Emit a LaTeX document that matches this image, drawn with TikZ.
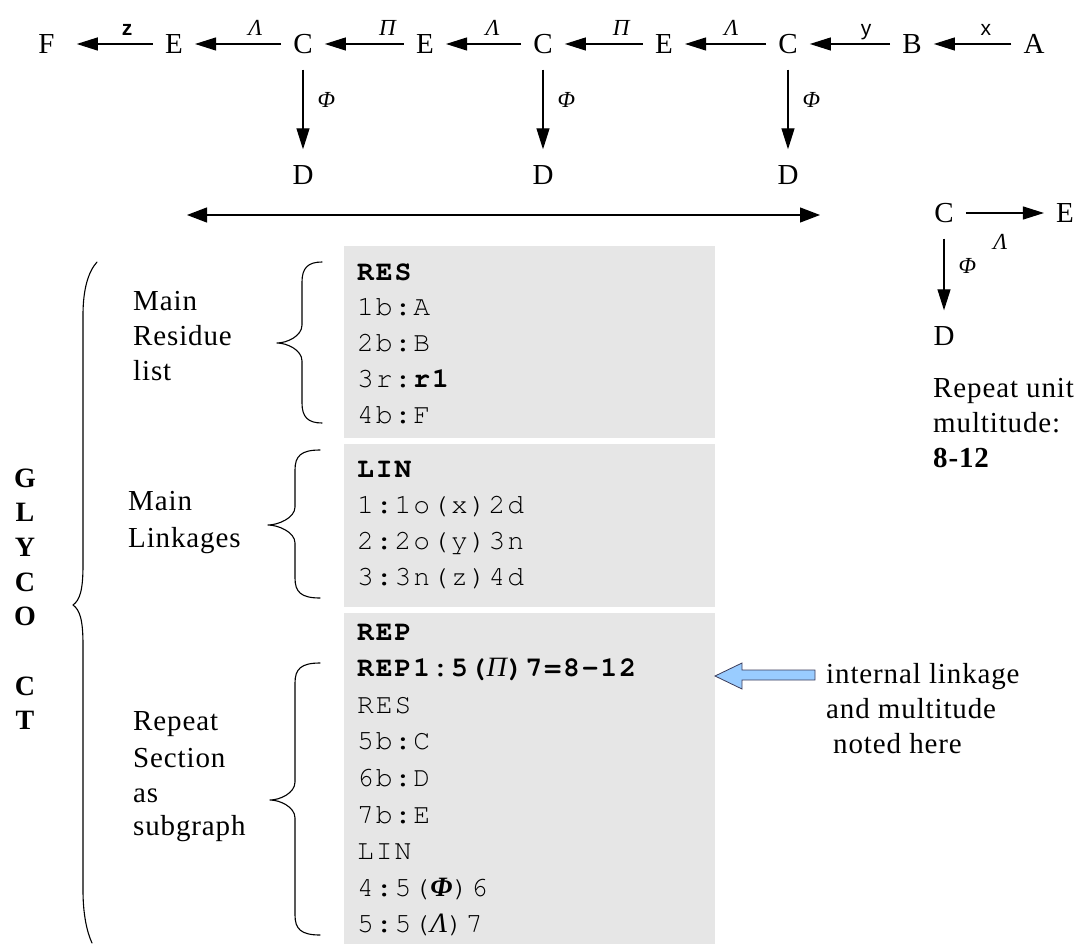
\documentclass[tikz,border=0pt]{standalone}
\usepackage{fontspec}
\setmainfont{Liberation Serif}[LetterSpace=3]
\newfontfamily\grk{Liberation Serif}
\newfontfamily\lblsans{Liberation Sans}
\newfontfamily\codefont{texgyrecursor-regular.otf}[BoldFont=texgyrecursor-bold.otf, LetterSpace=7]
\usetikzlibrary{arrows.meta}

\definecolor{boxgray}{RGB}{230,230,230}
\definecolor{noteblue}{RGB}{153,204,255}
\definecolor{noteedge}{RGB}{60,60,90}

% curly brace opening to the right: end x, stem x, tip x, top y, tip y, bottom y
\newcommand{\curlybrace}[6]{%
  \draw[bracepath] (#1,#4) .. controls ({#2+6},#4) and (#2,{#4+6}) .. (#2,{#4+20})
    -- (#2,{#5-18}) .. controls (#2,{#5-7}) and ({#3+10},#5) .. (#3,#5)
    .. controls ({#3+10},#5) and (#2,{#5+7}) .. (#2,{#5+18})
    -- (#2,{#6-20}) .. controls (#2,{#6-6}) and ({#2+6},#6) .. (#1,#6);}

\begin{document}
\begin{tikzpicture}[x=1pt,y=-1pt,
  res/.style={font=\fontsize{29}{34}\selectfont, text height=19pt, text depth=0pt,
              inner xsep=12pt, inner ysep=16pt},
  link/.style={line width=1.2pt, -{Triangle[length=21pt,width=13pt]}},
  glbl/.style={font=\grk\itshape\fontsize{23}{26}\selectfont, inner sep=0pt},
  slbl/.style={font=\lblsans\fontsize{21}{24}\selectfont, inner sep=0pt},
  txt/.style={font=\fontsize{29}{35}\selectfont, anchor=base west, inner sep=0pt},
  code/.style={font=\codefont\fontsize{28}{32}\selectfont, anchor=base west, inner sep=0pt},
  glyco/.style={font=\bfseries\fontsize{28}{34}\selectfont, anchor=base, inner sep=0pt},
  panel/.style={fill=boxgray, draw=none, inner sep=0pt, anchor=north west, minimum width=371pt},
  bracepath/.style={line width=1.1pt, line join=round, line cap=round},
]
\useasboundingbox (0,0) rectangle (1081,944);

% ---- main chain -------------------------------------------------------
\node[res, inner xsep=22pt] (F) at (46.5,44) {F};
\node[res] (E1) at (174,44) {E};
\node[res] (C1) at (303,44) {C};
\node[res] (E2) at (425,44) {E};
\node[res] (C2) at (543,44) {C};
\node[res] (E3) at (664,44) {E};
\node[res] (C3) at (788,44) {C};
\node[res] (B)  at (912,44) {B};
\node[res] (A)  at (1034,44) {A};
\node[res] (D1) at (303,175) {D};
\node[res] (D2) at (543,175) {D};
\node[res] (D3) at (788,175) {D};

\draw[link] (A)  -- (B)  node[slbl, pos=.33, anchor=base, yshift=8pt] {x};
\draw[link] (B)  -- (C3) node[slbl, pos=.30, anchor=base, yshift=8pt] {y};
\draw[link] (C3) -- (E3) node[glbl, pos=.43, anchor=base, yshift=8pt] {Λ};
\draw[link] (E3) -- (C2) node[glbl, pos=.28, anchor=base, yshift=8pt] {Π};
\draw[link] (C2) -- (E2) node[glbl, pos=.38, anchor=base, yshift=8pt] {Λ};
\draw[link] (E2) -- (C1) node[glbl, pos=.21, anchor=base, yshift=8pt] {Π};
\draw[link] (C1) -- (E1) node[glbl, pos=.30, anchor=base, yshift=8pt] {Λ};
\draw[link] (E1) -- (F)  node[slbl, font=\lblsans\bfseries\fontsize{21}{24}\selectfont, pos=.34, anchor=base, yshift=8pt] {z};

\draw[link] (C1) -- (D1) node[glbl, pos=.38, right=14pt] {Φ};
\draw[link] (C2) -- (D2) node[glbl, pos=.38, right=14pt] {Φ};
\draw[link] (C3) -- (D3) node[glbl, pos=.38, right=14pt] {Φ};

% span of the repeating unit
\coordinate (spanL) at (187,215);
\coordinate (spanR) at (820,215);
\draw[line width=1.2pt, {Triangle[length=20pt,width=15pt]}-{Triangle[length=20pt,width=15pt]}] (spanL) -- (spanR);

% ---- repeat unit --------------------------------------------------------
\node[res] (Cr) at (944,213) {C};
\node[res] (Er) at (1065,213) {E};
\node[res] (Dr) at (944,336) {D};
\draw[link] (Cr) -- (Er) node[glbl, pos=.44, below=21pt] {Λ};
\draw[link] (Cr) -- (Dr) node[glbl, pos=.375, right=14pt] {Φ};

\node[txt] (ru1) at (933,397) {Repeat unit};
\node[txt] (ru2) at (933,432) {multitude:};
\node[txt] (ru3) at (933,467) {\bfseries 8-12};

% ---- GlycoCT panels -----------------------------------------------------
\node[panel, minimum height=192pt] (resbox) at (344,246) {};
\node[panel, minimum height=163pt] (linbox) at (344,444) {};
\node[panel, minimum height=331pt] (repbox) at (344,613) {};

\foreach \t [count=\i from 0] in {{\bfseries RES},1b:A,2b:B,{3r:\textbf{r1}},4b:F}
  \node[code] (resl\i) at (357,{280+\i*35.75}) {\t};
\foreach \t [count=\i from 0] in {{\bfseries LIN},1:1o(x)2d,2:2o(y)3n,3:3n(z)4d}
  \node[code] (linl\i) at (357,{477+\i*36}) {\t};
\foreach \t [count=\i from 0] in {{\bfseries REP},{\bfseries REP1:5({\grk\itshape\mdseries Π})7=8-12},RES,5b:C,6b:D,7b:E,LIN,{4:5({\grk\itshape\bfseries Φ})6},{5:5({\grk\itshape Λ})7}}
  \node[code] (repl\i) at (357,{640+\i*36.6}) {\t};

% ---- section captions ---------------------------------------------------
\node[txt] (mr1) at (133,310) {Main};
\node[txt] (mr2) at (133,345) {Residue};
\node[txt] (mr3) at (133,380) {list};
\node[txt] (ml1) at (128,510) {Main};
\node[txt] (ml2) at (128,547) {Linkages};
\node[txt] (rs1) at (133,730) {Repeat};
\node[txt] (rs2) at (133,767) {Section};
\node[txt] (rs3) at (133,802) {as};
\node[txt] (rs4) at (133,835) {subgraph};

\foreach \ch/\k in {G/0,L/1,Y/2,C/3,O/4,C/6,T/7}
  \node[glyco] (gl\k) at (25,{487+\k*34.7}) {\ch};

% braces
\draw[bracepath] (97,262) .. controls (88,272) and (83,290) .. (83,315) -- (83,565)
  .. controls (83,590) and (80,600) .. (73,605) .. controls (80,610) and (83,620) .. (83,645)
  -- (83,890) .. controls (83,915) and (87,932) .. (92,943);
\curlybrace{322}{302}{277}{262}{343}{423}
\curlybrace{320}{295}{268}{450}{525}{598}
\curlybrace{320}{295}{270}{663}{800}{935}

% ---- note on the repeat header -----------------------------------------
\draw[fill=noteblue, draw=noteedge, line width=0.8pt, line join=miter]
  (815,670) -- (742,670) -- (742,663) -- (715,676) -- (742,689) -- (742,680) -- (815,680) -- cycle;
\node[txt] (nt1) at (826,683) {internal linkage};
\node[txt] (nt2) at (826,718) {and multitude};
\node[txt] (nt3) at (833,753) {noted here};
\end{tikzpicture}
\end{document}
